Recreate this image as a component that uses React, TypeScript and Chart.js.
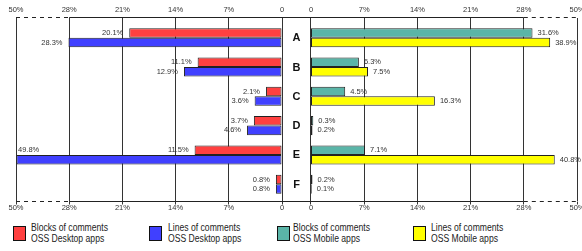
import React, { useEffect, useRef } from 'react';
import { Chart, registerables } from 'chart.js';

Chart.register(...registerables);

const CATEGORIES = ['A', 'B', 'C', 'D', 'E', 'F'];
const DESKTOP_BLOCKS = [20.1, 11.1, 2.1, 3.7, 11.5, 0.8];
const DESKTOP_LINES = [28.3, 12.9, 3.6, 4.6, 49.8, 0.8];
const MOBILE_BLOCKS = [31.6, 6.3, 4.5, 0.3, 7.1, 0.2];
const MOBILE_LINES = [38.9, 7.5, 16.3, 0.2, 40.8, 0.1];
const TICK_VALUES = [0, 7, 14, 21, 28, 50];
const TICK_LABELS = ['0', '7%', '14%', '21%', '28%', '50%'];
const SERIES_NAMES = [
  ['Blocks of comments', 'OSS Desktop apps'],
  ['Lines of comments', 'OSS Desktop apps'],
  ['Blocks of comments', 'OSS Mobile apps'],
  ['Lines of comments', 'OSS Mobile apps'],
];
const SERIES_COLORS = ['#ff4040', '#4040ff', '#5ab5a8', '#ffff00'];
const SERIES_VALUES = [DESKTOP_BLOCKS, DESKTOP_LINES, MOBILE_BLOCKS, MOBILE_LINES];

// broken axis: 0..28% in 7% steps, then 28..50% squeezed into one step
function toUnits(v: number): number {
  return v <= 28 ? v / 7 : 4 + (v - 28) / 22;
}
const GAP = 0.545; // width of the middle label column in axis units
const FONT = '"Liberation Sans", Arial, sans-serif';

export default function App() {
  const ref = useRef<HTMLCanvasElement>(null);

  useEffect(() => {
    document.body.style.margin = '0';
    const canvas = ref.current;
    if (!canvas) return;

    const tickList = [
      ...TICK_VALUES.slice().reverse().map((v) => ({ value: -toUnits(v) })),
      ...TICK_VALUES.map((v) => ({ value: GAP + toUnits(v) })),
    ];
    const tickLabel = (_v: any, idx: number) =>
      idx < TICK_VALUES.length ? TICK_LABELS[TICK_VALUES.length - 1 - idx] : TICK_LABELS[idx - TICK_VALUES.length];

    const mk = (si: number, right: boolean, stack: string) => ({
      label: SERIES_NAMES[si].join(' '),
      data: SERIES_VALUES[si].map((v, i) => ({
        x: right ? [GAP, GAP + toUnits(v)] : -toUnits(v),
        y: i,
      })),
      stack,
      backgroundColor: SERIES_COLORS[si],
      borderColor: '#222',
      borderWidth: 1,
      borderSkipped: false,
      categoryPercentage: 0.65,
      barPercentage: 1,
    });

    const framePlugin = {
      id: 'frame',
      beforeDatasetsDraw(chart: any) {
        const { ctx, chartArea } = chart;
        const xs = chart.scales.x;
        const pL50 = xs.getPixelForValue(-toUnits(50));
        const pL28 = xs.getPixelForValue(-toUnits(28));
        const pR28 = xs.getPixelForValue(GAP + toUnits(28));
        const pR50 = xs.getPixelForValue(GAP + toUnits(50));
        ctx.save();
        ctx.strokeStyle = '#222';
        ctx.lineWidth = 1;
        for (const y0 of [chartArea.top, chartArea.bottom]) {
          const y = Math.floor(y0) + 0.5;
          ctx.setLineDash([]);
          ctx.beginPath();
          ctx.moveTo(pL28, y);
          ctx.lineTo(pR28, y);
          ctx.stroke();
          ctx.setLineDash([4, 4]);
          ctx.beginPath();
          ctx.moveTo(pL50, y);
          ctx.lineTo(pL28, y);
          ctx.moveTo(pR28, y);
          ctx.lineTo(pR50, y);
          ctx.stroke();
        }
        ctx.restore();
      },
      afterDatasetsDraw(chart: any) {
        const { ctx, chartArea } = chart;
        const xs = chart.scales.x;
        const ys = chart.scales.y;
        ctx.save();
        // category letters
        const mid = (xs.getPixelForValue(0) + xs.getPixelForValue(GAP)) / 2;
        ctx.font = `bold 11px ${FONT}`;
        ctx.fillStyle = '#111';
        ctx.textAlign = 'center';
        ctx.textBaseline = 'middle';
        CATEGORIES.forEach((c, i) => ctx.fillText(c, mid, ys.getPixelForValue(i) + 0.5));
        // value labels
        ctx.font = `7.5px ${FONT}`;
        ctx.fillStyle = '#333';
        SERIES_VALUES.forEach((vals, si) => {
          const meta = chart.getDatasetMeta(si);
          meta.data.forEach((el: any, i: number) => {
            const text = vals[i].toFixed(1) + '%';
            const w = ctx.measureText(text).width;
            if (si < 2) {
              const tx = el.x - 6;
              if (tx - w < chartArea.left) {
                ctx.textAlign = 'left';
                ctx.fillText(text, chartArea.left + 2, el.y - el.height);
              } else {
                ctx.textAlign = 'right';
                ctx.fillText(text, tx, el.y);
              }
            } else {
              ctx.textAlign = 'left';
              ctx.fillText(text, el.x + 5, el.y);
            }
          });
        });
        ctx.restore();
      },
    };

    const chart = new Chart(canvas, {
      type: 'bar',
      data: {
        datasets: [mk(0, false, 'top'), mk(1, false, 'bottom'), mk(2, true, 'top'), mk(3, true, 'bottom')] as any,
      },
      options: {
        animation: false,
        responsive: false,
        indexAxis: 'y',
        layout: { padding: { left: 16, right: 5, top: 0, bottom: 0 } },
        plugins: { legend: { display: false }, tooltip: { enabled: false } },
        scales: {
          x: {
            type: 'linear',
            position: 'top',
            bounds: 'data',
            offset: false,
            min: -toUnits(50),
            max: GAP + toUnits(50),
            stacked: true,
            afterBuildTicks: (s: any) => {
              s.ticks = tickList.map((t) => ({ ...t }));
            },
            afterFit: (s: any) => {
              s.height = 17.5;
              s.paddingLeft = 0;
              s.paddingRight = 0;
            },
            ticks: {
              autoSkip: false,
              maxRotation: 0,
              padding: 3,
              color: '#333',
              font: { family: FONT, size: 7.5 },
              callback: tickLabel,
            },
            grid: { color: '#333', lineWidth: 1, drawTicks: false },
            border: { display: false },
          },
          x2: {
            type: 'linear',
            position: 'bottom',
            bounds: 'data',
            offset: false,
            min: -toUnits(50),
            max: GAP + toUnits(50),
            afterBuildTicks: (s: any) => {
              s.ticks = tickList.map((t) => ({ ...t }));
            },
            afterFit: (s: any) => {
              s.height = 16.5;
              s.paddingLeft = 0;
              s.paddingRight = 0;
            },
            ticks: {
              autoSkip: false,
              maxRotation: 0,
              padding: -1,
              color: '#333',
              font: { family: FONT, size: 7.5 },
              callback: tickLabel,
            },
            grid: { color: '#333', lineWidth: 1, drawOnChartArea: false, drawTicks: true, tickLength: 3 },
            border: { display: false },
          },
          y: {
            type: 'linear',
            display: false,
            reverse: true,
            stacked: true,
            offset: false,
            bounds: 'data',
            min: -0.69,
            max: 5.59,
            afterBuildTicks: (s: any) => {
              s.ticks = CATEGORIES.map((_c, i) => ({ value: i }));
            },
          },
        },
      } as any,
      plugins: [framePlugin],
    });

    return () => chart.destroy();
  }, []);

  const legendLeft = [13, 149, 277, 413];
  const textLeft = [31, 168, 293, 431];

  return (
    <div style={{ position: 'relative', width: 582, height: 251, overflow: 'hidden' }}>
      <canvas ref={ref} width={582} height={218} style={{ display: 'block', width: 582, height: 218 }} />
      {SERIES_NAMES.map((lines, i) => (
        <React.Fragment key={i}>
          <div
            style={{
              position: 'absolute',
              left: legendLeft[i],
              top: 226,
              width: 13,
              height: 15,
              boxSizing: 'border-box',
              border: '1.5px solid #111',
              background: SERIES_COLORS[i],
            }}
          />
          <div
            style={{
              position: 'absolute',
              left: textLeft[i],
              top: 222,
              fontFamily: FONT,
              fontSize: '10.5px',
              lineHeight: '11.3px',
              color: '#222',
              whiteSpace: 'nowrap',
              transform: 'scaleX(0.82)',
              transformOrigin: 'left top',
            }}
          >
            {lines.map((l, j) => (
              <div key={j}>{l}</div>
            ))}
          </div>
        </React.Fragment>
      ))}
    </div>
  );
}
